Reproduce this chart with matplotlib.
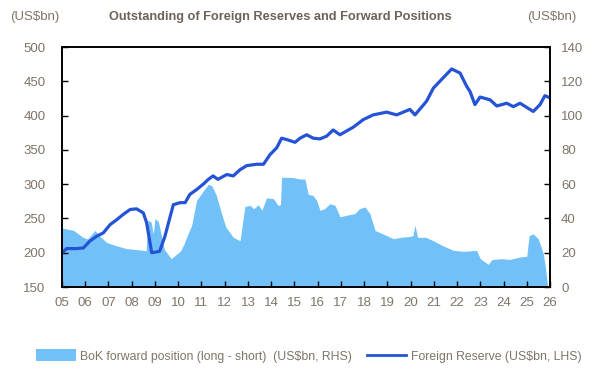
import matplotlib
matplotlib.use("Agg")
import matplotlib.pyplot as plt
from matplotlib.patches import Patch
from matplotlib.lines import Line2D

plt.rcParams['font.family'] = ['Liberation Sans', 'DejaVu Sans']

# Foreign reserves (US$bn, LHS)
reserve_t = [2005.0, 2005.2, 2005.63, 2005.92, 2006.2, 2006.49, 2006.78, 2007.07, 2007.35,
             2007.64, 2007.93, 2008.21, 2008.5, 2008.64, 2008.86, 2009.2, 2009.43, 2009.79,
             2010.08, 2010.3, 2010.5, 2010.79, 2011.08, 2011.3, 2011.5, 2011.71, 2012.09,
             2012.37, 2012.66, 2012.95, 2013.38, 2013.67, 2013.95, 2014.24, 2014.45, 2014.67,
             2015.03, 2015.24, 2015.53, 2015.81, 2016.1, 2016.39, 2016.67, 2016.96, 2017.53,
             2017.96, 2018.39, 2018.97, 2019.4, 2019.97, 2020.19, 2020.69, 2020.98, 2021.4,
             2021.77, 2022.13, 2022.41, 2022.56, 2022.77, 2022.99, 2023.42, 2023.71, 2024.14,
             2024.42, 2024.71, 2025.28, 2025.57, 2025.78, 2025.99]
reserve_v = [200, 206, 206, 207, 217, 224, 229, 241, 248,
             256, 263, 264, 258, 244, 200, 202, 224, 270,
             273, 273, 285, 292, 300, 307, 312, 307, 314,
             312, 321, 327, 329, 329, 343, 353, 367, 365,
             361, 367, 372, 367, 366, 370, 379, 372, 383,
             394, 401, 405, 401, 409, 401, 421, 440, 455,
             468, 462, 443, 435, 416, 427, 423, 414, 418,
             413, 418, 406, 416, 429, 426]

# BoK forward position, long - short (US$bn, RHS)
fwd_t = [2005.0, 2005.5, 2005.9, 2006.1, 2006.42, 2006.6, 2006.92, 2007.35, 2007.78,
         2008.5, 2008.62, 2008.7, 2008.83, 2008.93, 2009.0, 2009.15, 2009.4, 2009.7, 2010.1,
         2010.25, 2010.36, 2010.58, 2010.79, 2011.08, 2011.3, 2011.45, 2011.64, 2011.86,
         2012.05, 2012.37, 2012.66, 2012.87, 2013.1, 2013.25, 2013.45, 2013.6, 2013.8,
         2014.1, 2014.3, 2014.4, 2014.45, 2014.7, 2014.95, 2015.24, 2015.45, 2015.6,
         2015.8, 2015.96, 2016.1, 2016.3, 2016.53, 2016.75, 2016.96, 2017.3, 2017.6,
         2017.8, 2018.04, 2018.25, 2018.47, 2018.8, 2019.26, 2019.6, 2019.97, 2020.1,
         2020.19, 2020.3, 2020.65, 2020.98, 2021.4, 2021.84, 2022.3, 2022.84, 2023.0,
         2023.34, 2023.5, 2023.9, 2024.28, 2024.7, 2025.0, 2025.1, 2025.28, 2025.5,
         2025.71, 2025.8, 2025.9]
fwd_v = [34.4, 33, 29, 28, 33, 30, 26, 24, 22.4,
         21.4, 21, 39, 38, 31, 40, 38, 22, 16.5, 21,
         25, 29, 36, 50.5, 56, 60, 59, 53.5, 43,
         35, 29, 27, 47, 47.6, 45.7, 48, 44.7, 52,
         51.5, 47.6, 48, 64, 64, 63.8, 63, 63, 54,
         53.5, 50.5, 44.7, 45.7, 48.6, 47.6, 41, 42, 42.8,
         45.7, 46.7, 42.8, 33, 31, 28.2, 29, 29.5, 30,
         36, 29, 29, 27, 24, 21.4, 20.8, 21.4, 16.5,
         13.2, 16, 16.5, 16.1, 17.5, 17.9, 30, 31, 28,
         19.4, 11.7, 0]

years = list(range(2005, 2027))
year_labels = [f"{y % 100:02d}" for y in years]

TXT = '#7f7468'
AREA = '#71c0f8'
LINE = '#2453d6'

fig = plt.figure(figsize=(6, 3.8), dpi=100)
ax = fig.add_axes([62 / 600, 1 - 287 / 380, 488 / 600, 240 / 380])
ax2 = ax.twinx()

ax2.fill_between(fwd_t, fwd_v, 0, color=AREA, linewidth=0)
ax.plot(reserve_t, reserve_v, color=LINE, linewidth=2.3)

ax.set_zorder(ax2.get_zorder() + 1)
ax.patch.set_visible(False)

ax.set_xlim(2005, 2026)
ax.set_ylim(150, 500)
ax2.set_ylim(0, 140)
ax.set_yticks(range(150, 501, 50))
ax2.set_yticks(range(0, 141, 20))
ax.set_xticks(years)
ax.set_xticklabels(year_labels)

for a in (ax, ax2):
    a.tick_params(direction='in', length=4, width=1, colors='black',
                  labelcolor=TXT, labelsize=9.5)
    for s in a.spines.values():
        s.set_linewidth(1.2)
ax.tick_params(axis='x', pad=7)
ax.tick_params(axis='y', pad=12)
ax2.tick_params(axis='y', pad=8)

fig.text(280 / 600, 1 - 17 / 380, 'Outstanding of Foreign Reserves and Forward Positions',
         ha='center', va='center', fontsize=9.2, fontweight='bold', color='#6b6259')
fig.text(10 / 600, 1 - 17 / 380, '(US$bn)', ha='left', va='center', fontsize=9.5, color=TXT)
fig.text(576 / 600, 1 - 17 / 380, '(US$bn)', ha='right', va='center', fontsize=9.5, color=TXT)

handles = [Patch(facecolor=AREA, edgecolor='none'),
           Line2D([0], [0], color=LINE, linewidth=2)]
labels = ['BoK forward position (long - short)  (US$bn, RHS)',
          'Foreign Reserve (US$bn, LHS)']
fig.legend(handles, labels, loc='center', bbox_to_anchor=(0.515, 1 - 356 / 380),
           ncol=2, frameon=False, fontsize=8.8, labelcolor=TXT,
           handlelength=3.2, handleheight=1.1, columnspacing=1.2, handletextpad=0.4,
           borderaxespad=0, borderpad=0)

fig.savefig('out.png', dpi=100, facecolor='white')
